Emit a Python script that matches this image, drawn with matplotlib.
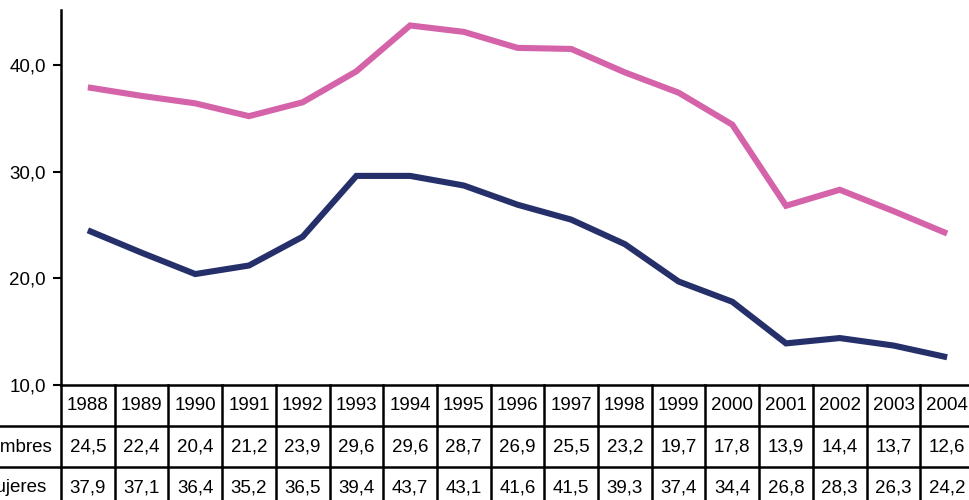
import numpy as np
import matplotlib.pyplot as plt
import matplotlib.transforms as mtransforms
from matplotlib.lines import Line2D

plt.rcParams['font.family'] = ['Liberation Sans', 'DejaVu Sans']

years = ['1988', '1989', '1990', '1991', '1992', '1993', '1994', '1995', '1996',
         '1997', '1998', '1999', '2000', '2001', '2002', '2003', '2004']
hombres = [24.5, 22.4, 20.4, 21.2, 23.9, 29.6, 29.6, 28.7, 26.9,
           25.5, 23.2, 19.7, 17.8, 13.9, 14.4, 13.7, 12.6]
mujeres = [37.9, 37.1, 36.4, 35.2, 36.5, 39.4, 43.7, 43.1, 41.6,
           41.5, 39.3, 37.4, 34.4, 26.8, 28.3, 26.3, 24.2]
row_labels = ['Hombres', 'Mujeres']
yticks = [10, 20, 30, 40]

FS = 13.5
W, H = 970, 500
fig = plt.figure(figsize=(W / 100, H / 100), dpi=100)
# ejes en pixeles: izquierda 61, derecha 974 (cortado), abajo 385, arriba 10
ax = fig.add_axes([61 / W, 1 - 385 / H, (974 - 61) / W, (385 - 10) / H])

x = np.arange(len(years))
ax.plot(x, mujeres, color='#D563AA', lw=4.4, solid_capstyle='butt', solid_joinstyle='miter')
ax.plot(x, hombres, color='#25306B', lw=4.4, solid_capstyle='butt', solid_joinstyle='miter')

ax.set_xlim(-0.5, len(years) - 0.5)
ax.set_ylim(10, 45.15)
ax.set_yticks(yticks)
ax.set_yticklabels([f'{v:.1f}'.replace('.', ',') for v in yticks], fontsize=FS)
ax.tick_params(axis='y', length=6, width=1.5, pad=5, direction='out')
ax.set_xticks([])
for s in ['top', 'right', 'bottom']:
    ax.spines[s].set_visible(False)
ax.spines['left'].set_linewidth(1.8)

# tabla de datos debajo
trans = mtransforms.blended_transform_factory(ax.transData, ax.transAxes)
def yfrac(py):
    return (385 - py) / 375

lw_t = 1.8
# lineas horizontales
fig.add_artist(Line2D([61 / W, 1], [1 - 385 / H] * 2, color='black', lw=lw_t))
for py in [426, 467]:
    fig.add_artist(Line2D([0, 1], [1 - py / H] * 2, color='black', lw=lw_t))
# lineas verticales
for i in range(len(years) + 1):
    ax.add_line(Line2D([i - 0.5, i - 0.5], [0, yfrac(510)], transform=trans,
                       color='black', lw=lw_t, clip_on=False))

for i, yr in enumerate(years):
    ax.text(i, yfrac(406), yr, transform=trans, ha='center', va='center', fontsize=FS, clip_on=False)
    ax.text(i, yfrac(447), f'{hombres[i]:.1f}'.replace('.', ','), transform=trans,
            ha='center', va='center', fontsize=FS, clip_on=False)
    ax.text(i, yfrac(488), f'{mujeres[i]:.1f}'.replace('.', ','), transform=trans,
            ha='center', va='center', fontsize=FS, clip_on=False)

# etiquetas de fila (cortadas por el borde, como en el original)
lab_x = -0.5 - (61 - 14) / 53.7
ax.text(lab_x, yfrac(447), row_labels[0], transform=trans, ha='center', va='center', fontsize=FS, clip_on=False)
ax.text(lab_x, yfrac(488), row_labels[1], transform=trans, ha='center', va='center', fontsize=FS, clip_on=False)

fig.savefig('out.png', dpi=100)
